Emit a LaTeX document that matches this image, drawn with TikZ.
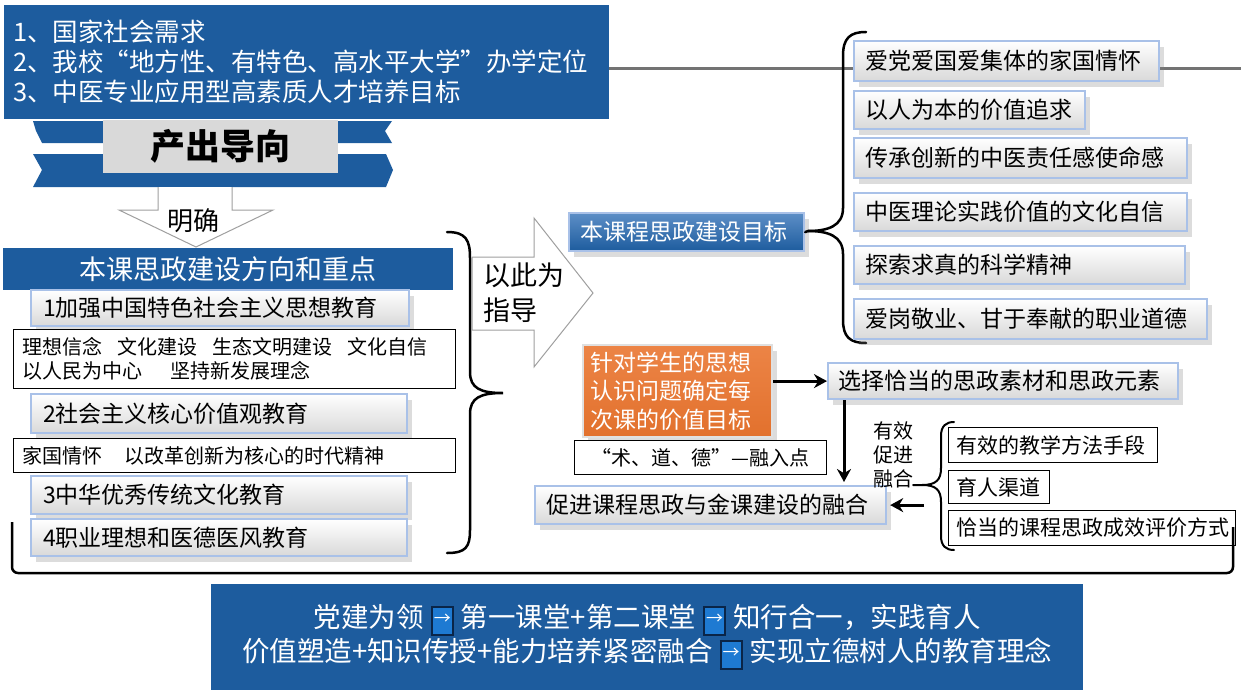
\documentclass[tikz,border=0pt]{standalone}
\usepackage{fontspec}
\setmainfont{Noto Sans CJK SC}
\usetikzlibrary{shadows,arrows.meta,calc}
\definecolor{mblue}{HTML}{1D5C9E}
\definecolor{glow}{HTML}{A9C1E8}
\definecolor{orng}{HTML}{E2712D}
\definecolor{orngtop}{HTML}{EC8446}
\definecolor{gblue}{HTML}{3472B8}
\definecolor{icofill}{HTML}{1E7AD2}
\definecolor{icoborder}{HTML}{0A2548}
\newcommand\setfs[2]{\fontsize{#1}{#2}\selectfont}
\newcommand\ico{{\setlength\fboxsep{2pt}\setlength\fboxrule{2pt}\fcolorbox{icoborder}{icofill}{\makebox[15pt][c]{\rule[-4pt]{0pt}{22pt}\color{white}\setfs{17}{17}\raisebox{3pt}{→}}}}}
\begin{document}
\begin{tikzpicture}[x=1pt,y=-1pt,
  bluefill/.style={fill=mblue,text=white,inner sep=0pt},
  gbox/.style={top color=white,bottom color=black!15,draw=glow,line width=2.2pt,
    drop shadow={opacity=0.28,shadow xshift=5pt,shadow yshift=-6pt},
    text=black,inner xsep=12pt,inner ysep=0pt,align=left,anchor=north west,font=\setfs{23}{27}},
  rbox/.style={gbox,inner xsep=11pt},
  wbox/.style={fill=white,draw=black,line width=1pt,text=black,inner xsep=9pt,inner ysep=0pt,align=left,anchor=north west,font=\setfs{20}{24}},
  arr/.style={line width=3pt,-{Stealth[length=13pt,width=14pt]}},
  hollow/.style={fill=white,draw=gray!75,line width=1pt},
  brc/.style={line width=2.5pt,line cap=round}
]
\useasboundingbox (0,0) rectangle (1241,693);

% top box and gray line
\node[bluefill,anchor=north west,minimum width=605pt,minimum height=114pt,inner xsep=9pt,text width=587pt,align=left,font=\setfs{25.5}{30}] (top) at (4,5)
  {1、国家社会需求\\2、我校“地方性、有特色、高水平大学”办学定位\\3、中医专业应用型高素质人才培养目标};
\coordinate (lineend) at (1241,68);
\draw[black!55,line width=3pt] (top.east |- lineend) -- (lineend);

% ribbon
\fill[mblue] (33,121) -- (392,121) -- (385,131) -- (392,143) -- (42,143) -- (36,131) -- cycle;
\fill[mblue] (33,154) -- (386,154) -- (393,170) -- (386,187) -- (33,187) -- (42,170) -- cycle;
\node[fill=black!15,anchor=north west,minimum width=235pt,minimum height=53pt,inner sep=0pt,font=\setfs{35}{35}\bfseries] (out) at (103,120) {产出导向};

% down hollow arrow
\draw[hollow] (158,187) -- (158,210) -- (119,210) -- (196,247) -- (273,210) -- (232,210) -- (232,187);
\node[font=\setfs{26}{26}] (mq) at (193,221) {明确};

% left column
\node[bluefill,anchor=north west,minimum width=450pt,minimum height=42pt,font=\setfs{27}{27}] (dir) at (3,248) {本课思政建设方向和重点};
\node[gbox,minimum width=378pt,minimum height=36pt,text width=354pt] (b1) at (30,289) {1加强中国特色社会主义思想教育};
\node[wbox,minimum width=442pt,minimum height=59pt,text width=424pt] (wa) at (13,329) {理想信念\hspace{15pt}文化建设\hspace{15pt}生态文明建设\hspace{15pt}文化自信\\以人民为中心\hspace{28pt}坚持新发展理念};
\node[gbox,minimum width=376pt,minimum height=39pt,text width=352pt] (b2) at (30,393) {2社会主义核心价值观教育};
\node[wbox,minimum width=442pt,minimum height=34pt,text width=424pt] (wb) at (13,438) {家国情怀\hspace{22pt}以改革创新为核心的时代精神};
\node[gbox,minimum width=376pt,minimum height=38pt,text width=352pt] (b3) at (30,475) {3中华优秀传统文化教育};
\node[gbox,minimum width=376pt,minimum height=37pt,text width=352pt] (b4) at (30,518) {4职业理想和医德医风教育};

% big brace
\coordinate (bt) at (447,232);
\coordinate (bb) at (447,553);
\coordinate (btip) at (503,393);
\draw[brc] (bt) .. controls (466,232) and (470,240) .. (470,258) -- (470,372)
  .. controls (470,388) and (480,393) .. (btip)
  .. controls (480,393) and (470,398) .. (470,414) -- (470,530)
  .. controls (470,547) and (466,553) .. (bb);

% right hollow arrow
\draw[hollow] (472,257) -- (534,257) -- (534,218) -- (593,293) -- (534,367) -- (534,330) -- (472,330) -- cycle;
\node[anchor=north west,inner sep=0pt,align=left,font=\setfs{27}{35}] (guide) at (483,263) {以此为\\指导};

% goal box and brace
\node[top color=gblue!80!white,bottom color=mblue,draw=glow,line width=2.2pt,
  drop shadow={opacity=0.28,shadow xshift=5pt,shadow yshift=-6pt},
  text=white,inner xsep=11pt,inner ysep=0pt,align=left,anchor=north west,font=\setfs{23}{27},
  minimum width=235pt,minimum height=38pt,text width=213pt] (goal) at (568,212) {本课程思政建设目标};
\coordinate (rt) at (866,32);
\coordinate (rb) at (866,343);
\draw[brc] (goal.east) -- (808,231)
  .. controls (828,231) and (843,226) .. (843,208) -- (843,56)
  .. controls (843,38) and (850,32) .. (rt);
\draw[brc] (808,231) .. controls (828,231) and (843,236) .. (843,254) -- (843,320)
  .. controls (843,337) and (850,343) .. (rb);

% right boxes
\node[rbox,minimum width=305pt,minimum height=40pt,text width=283pt] (r1) at (853,40) {爱党爱国爱集体的家国情怀};
\node[rbox,minimum width=231pt,minimum height=38pt,text width=209pt] (r2) at (853,90) {以人为本的价值追求};
\node[rbox,minimum width=333pt,minimum height=40pt,text width=311pt] (r3) at (853,137) {传承创新的中医责任感使命感};
\node[rbox,minimum width=333pt,minimum height=38pt,text width=311pt] (r4) at (853,192) {中医理论实践价值的文化自信};
\node[rbox,minimum width=331pt,minimum height=38pt,text width=309pt] (r5) at (853,245) {探索求真的科学精神};
\node[rbox,minimum width=353pt,minimum height=40pt,text width=331pt] (r6) at (853,298) {爱岗敬业、甘于奉献的职业道德};

% orange and flow
\node[top color=orngtop,bottom color=orng,draw=black!12,line width=2pt,
  drop shadow={opacity=0.28,shadow xshift=5pt,shadow yshift=-6pt},
  text=white,inner xsep=7pt,inner ysep=0pt,align=left,anchor=north west,font=\setfs{23}{28.5},
  minimum width=189pt,minimum height=92pt,text width=175pt] (org) at (582,344) {针对学生的思想\\认识问题确定每\\次课的价值目标};
\node[rbox,inner xsep=10pt,minimum width=350pt,minimum height=36pt,text width=330pt] (sel) at (827,362) {选择恰当的思政素材和思政元素};
\node[wbox,align=center,inner xsep=9pt,minimum width=252pt,minimum height=34pt,text width=234pt] (shu) at (574,440) {“术、道、德”—融入点};
\node[rbox,minimum width=351pt,minimum height=38pt,text width=329pt] (prom) at (534,485) {促进课程思政与金课建设的融合};

\draw[arr] (org.east |- sel.west) -- (sel.west);
\draw[arr] ([xshift=17pt]sel.south west) -- ([xshift=310pt,yshift=3pt]prom.north west);
\draw[arr,shorten >=3pt] ([xshift=37pt]prom.east) -- (prom.east);

\node[anchor=north west,inner sep=0pt,align=left,font=\setfs{20}{24}] (eff) at (873,421) {有效\\促进\\融合};

% small brace
\coordinate (st) at (954,422);
\coordinate (sb) at (954,550);
\draw[brc,line width=2pt] (913,485) -- (922,485)
  .. controls (936,485) and (941,480) .. (941,468) -- (941,436)
  .. controls (941,426) and (946,422) .. (st);
\draw[brc,line width=2pt] (922,485) .. controls (936,485) and (941,490) .. (941,502) -- (941,536)
  .. controls (941,546) and (946,550) .. (sb);

\node[wbox,inner xsep=8pt,minimum width=209pt,minimum height=35pt,text width=193pt,font=\setfs{21}{24}] (s1) at (948,427) {有效的教学方法手段};
\node[wbox,inner xsep=8pt,minimum width=101pt,minimum height=33pt,text width=85pt,font=\setfs{21}{24}] (s2) at (948,470) {育人渠道};
\node[wbox,inner xsep=8pt,minimum width=287pt,minimum height=35pt,text width=271pt,font=\setfs{21}{24}] (s3) at (948,510) {恰当的课程思政成效评价方式};

% outer bracket
\coordinate (oa) at (12,522);
\coordinate (ob) at (1233,527);
\draw[line width=2.5pt,rounded corners=6pt] (oa) -- (12,573) -- (1233,573) -- (ob);

% bottom box
\node[bluefill,anchor=north west,minimum width=872pt,minimum height=106pt,align=center,font=\setfs{27.5}{34}] (bot) at (211,584)
  {党建为领\hspace{7pt}\ico\hspace{7pt}第一课堂+第二课堂\hspace{7pt}\ico\hspace{7pt}知行合一，实践育人\\价值塑造+知识传授+能力培养紧密融合\hspace{7pt}\ico\hspace{7pt}实现立德树人的教育理念};
\end{tikzpicture}
\end{document}
